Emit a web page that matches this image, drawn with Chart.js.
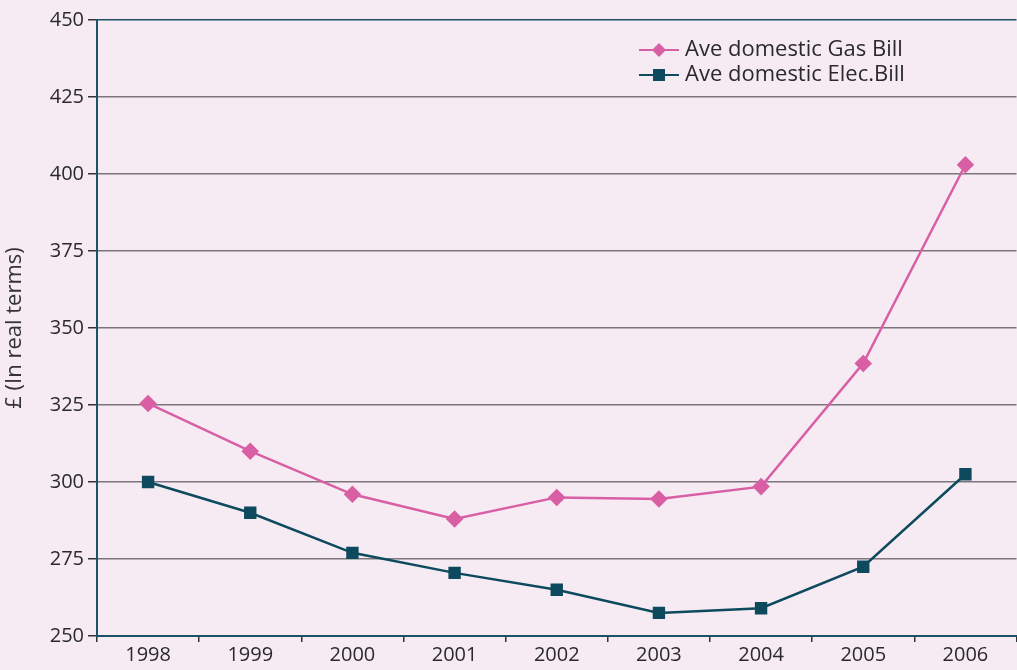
<!DOCTYPE html>
<html>
<head>
<meta charset="utf-8">
<script src="https://cdn.jsdelivr.net/npm/chart.js@4"></script>
<style>
  html, body { margin: 0; padding: 0; overflow: hidden; background: #f6ebf3; }
  #wrap { width: 1026px; height: 670px; }
</style>
</head>
<body>
<div id="wrap"><canvas id="chart" width="1026" height="670"></canvas></div>
<script>
const years = ['1998', '1999', '2000', '2001', '2002', '2003', '2004', '2005', '2006'];
const gasBill = [325.5, 310, 296, 288, 295, 294.5, 298.5, 338.5, 403];
const elecBill = [300, 290, 277, 270.5, 265, 257.5, 259, 272.5, 302.5];
const seriesNames = ['Ave domestic Gas Bill', 'Ave domestic Elec.Bill'];

const gasColor = '#d95fa5';
const elecColor = '#0e4a5e';
const axisColor = '#1c5268';
const gridColor = '#7d757b';
const fontFamily = '"Open Sans", sans-serif';

// legend drawn inside the plot, line + marker like the original
const lineLegend = {
  id: 'lineLegend',
  afterDraw(chart) {
    const ctx = chart.ctx;
    ctx.save();
    chart.data.datasets.forEach((ds, i) => {
      const y = 50 + i * 25;
      ctx.strokeStyle = ds.borderColor;
      ctx.lineWidth = 2;
      ctx.beginPath();
      ctx.moveTo(639, y);
      ctx.lineTo(679, y);
      ctx.stroke();
      ctx.fillStyle = ds.backgroundColor;
      ctx.beginPath();
      if (ds.pointStyle === 'rectRot') {
        ctx.moveTo(659, y - 7); ctx.lineTo(666, y); ctx.lineTo(659, y + 7); ctx.lineTo(652, y);
      } else {
        ctx.rect(653, y - 6, 12, 12);
      }
      ctx.closePath();
      ctx.fill();
      ctx.fillStyle = '#2a2a2a';
      ctx.font = '22px ' + fontFamily;
      ctx.textBaseline = 'middle';
      ctx.fillText(ds.label, 685, y);
    });
    ctx.restore();
  }
};

new Chart(document.getElementById('chart'), {
  type: 'line',
  data: {
    labels: years,
    datasets: [
      {
        label: seriesNames[0],
        data: gasBill,
        borderColor: gasColor,
        backgroundColor: gasColor,
        borderWidth: 2.5,
        pointStyle: 'rectRot',
        pointRadius: 7,
        tension: 0
      },
      {
        label: seriesNames[1],
        data: elecBill,
        borderColor: elecColor,
        backgroundColor: elecColor,
        borderWidth: 2.5,
        pointStyle: 'rect',
        pointRadius: 7,
        tension: 0
      }
    ]
  },
  options: {
    responsive: false,
    animation: false,
    layout: { padding: { top: 20, left: 0, right: 0, bottom: 0 } },
    plugins: {
      legend: { display: false },
      tooltip: { enabled: false }
    },
    scales: {
      x: {
        offset: true,
        grid: {
          offset: true,
          drawOnChartArea: false,
          tickLength: 6,
          color: '#333',
          lineWidth: 1.5
        },
        border: { color: axisColor, width: 2 },
        ticks: {
          color: '#2a2a2a',
          font: { family: fontFamily, size: 20 },
          padding: 1
        },
        afterFit(scale) { scale.height = 34; }
      },
      y: {
        min: 250,
        max: 450,
        ticks: {
          stepSize: 25,
          color: '#2a2a2a',
          font: { family: fontFamily, size: 20 },
          padding: 4
        },
        grid: {
          tickLength: 9,
          lineWidth: 1.5,
          color: ctx => ctx.tick && ctx.tick.value === 450 ? axisColor : gridColor,
          tickColor: '#333'
        },
        border: { color: axisColor, width: 2 },
        title: {
          display: true,
          text: '£ (In real terms)',
          color: '#333',
          font: { family: fontFamily, size: 22 },
          padding: { top: 2, bottom: 2 }
        },
        afterFit(scale) { scale.width = 97; }
      }
    }
  },
  plugins: [lineLegend]
});
</script>
</body>
</html>
